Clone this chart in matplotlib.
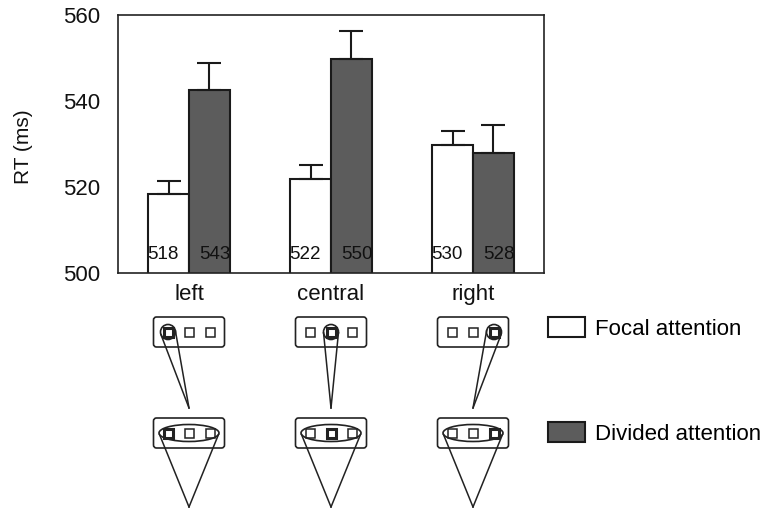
import numpy as np
import matplotlib
matplotlib.use("Agg")
import matplotlib.pyplot as plt
from matplotlib.patches import FancyBboxPatch, Rectangle, Ellipse

plt.rcParams['font.family'] = ['Liberation Sans', 'DejaVu Sans']

# ---- data ----
conditions = ["left", "central", "right"]
focal = [518.4, 521.9, 529.8]
divided = [542.6, 549.8, 527.9]
focal_err = [3.0, 3.2, 3.2]
divided_err = [6.2, 6.5, 6.5]
yticks = [500, 520, 540, 560]
series_names = ["Focal attention", "Divided attention"]
focus_index = [0, 1, 2]

W, H = 760, 508
fig = plt.figure(figsize=(W / 100, H / 100), dpi=100)
ax_l, ax_r, ax_t, ax_b = 118, 544, 15, 273
ax = fig.add_axes([ax_l / W, 1 - ax_b / H, (ax_r - ax_l) / W, (ax_b - ax_t) / H])

x = np.arange(len(conditions))
bw = 0.288
edge = '#1a1a1a'
dark = '#5c5c5c'
ekw = dict(ecolor=edge, elinewidth=1.5, capsize=8.5, capthick=1.5)
b1 = ax.bar(x - bw / 2, focal, bw, color='white', edgecolor=edge, linewidth=1.5,
            yerr=[np.zeros(3), focal_err], error_kw=ekw, label=series_names[0], zorder=2)
b2 = ax.bar(x + bw / 2, divided, bw, color=dark, edgecolor=edge, linewidth=1.5,
            yerr=[np.zeros(3), divided_err], error_kw=ekw, label=series_names[1], zorder=2)

for i in range(3):
    ax.text(x[i] - bw / 2 - 0.04, 504.2, f"{round(focal[i])}", ha='center', va='center', fontsize=13.5, color='#111', zorder=3)
    ax.text(x[i] + bw / 2 + 0.04, 504.2, f"{round(divided[i])}", ha='center', va='center', fontsize=13.5, color='#111', zorder=3)

ax.set_xlim(-0.5, 2.5)
ax.set_ylim(500, 560)
ax.set_yticks(yticks)
ax.set_xticks(x)
ax.set_xticklabels(conditions)
ax.tick_params(axis='y', length=0, pad=13, labelsize=16, labelcolor='#111')
ax.tick_params(axis='x', length=0, pad=8, labelsize=16, labelcolor='#111')
for s in ax.spines.values():
    s.set_linewidth(1.2)
    s.set_color('#222')
ax.set_ylabel("RT (ms)", fontsize=15, color='#111', va='center')
ax.yaxis.set_label_coords((23 - ax_l) / (ax_r - ax_l), 0.49)

# ---- schematic overlay (pixel coordinates) ----
ov = fig.add_axes([0, 0, 1, 1], zorder=-1)
ov.set_xlim(0, W)
ov.set_ylim(H, 0)
ov.axis('off')
ov.patch.set_alpha(0)

centers = [ax.transData.transform((xi, 500))[0] for xi in x]
lc = '#222'


def tangent_points(P, C, r):
    P = np.array(P, float); C = np.array(C, float)
    d = P - C
    dist = np.hypot(*d)
    a = np.arccos(r / dist)
    base = np.arctan2(d[1], d[0])
    return [C + r * np.array([np.cos(base + s * a), np.sin(base + s * a)]) for s in (1, -1)]


for i, cx in enumerate(centers):
    f = focus_index[i]
    sq_x = [cx - 21, cx, cx + 21]
    for (ytop, yc) in [(317, 332), (418, 433)]:
        ov.add_patch(FancyBboxPatch((cx - 35.5, ytop), 71, 30, boxstyle="round,pad=0,rounding_size=3",
                                    fill=False, edgecolor=lc, linewidth=1.2))
        for k, sx in enumerate(sq_x):
            ov.add_patch(Rectangle((sx - 4.5, yc - 4.5), 9, 9, fill=False, edgecolor=lc,
                                   linewidth=2.2 if k == f else 1.1))
    C = (sq_x[f], 332)
    r = 7.5
    ov.add_patch(Ellipse(C, 2 * r, 2 * r, fill=False, edgecolor=lc, linewidth=1.2))
    apex = (cx, 408)
    for tp in tangent_points(apex, C, r):
        ov.plot([tp[0], apex[0]], [tp[1], apex[1]], color=lc, lw=1.1)
    ov.add_patch(Ellipse((cx, 433), 60, 17, fill=False, edgecolor=lc, linewidth=1.2))
    apex2 = (cx, 507)
    ov.plot([cx - 29.5, apex2[0]], [434.5, apex2[1]], color=lc, lw=1.1)
    ov.plot([cx + 29.5, apex2[0]], [434.5, apex2[1]], color=lc, lw=1.1)

# ---- legend ----
lfs = 16
fs_px = lfs * 100 / 72
fig.legend(handles=[b1, b2], labels=series_names, loc='upper left',
           bbox_to_anchor=(548 / W, 1 - 317 / H), frameon=False, fontsize=lfs,
           borderpad=0, borderaxespad=0, handlelength=37 / fs_px, handleheight=23 / fs_px,
           handletextpad=10 / fs_px, labelspacing=(105 - 23) / fs_px)

fig.savefig("out.png", dpi=100)
